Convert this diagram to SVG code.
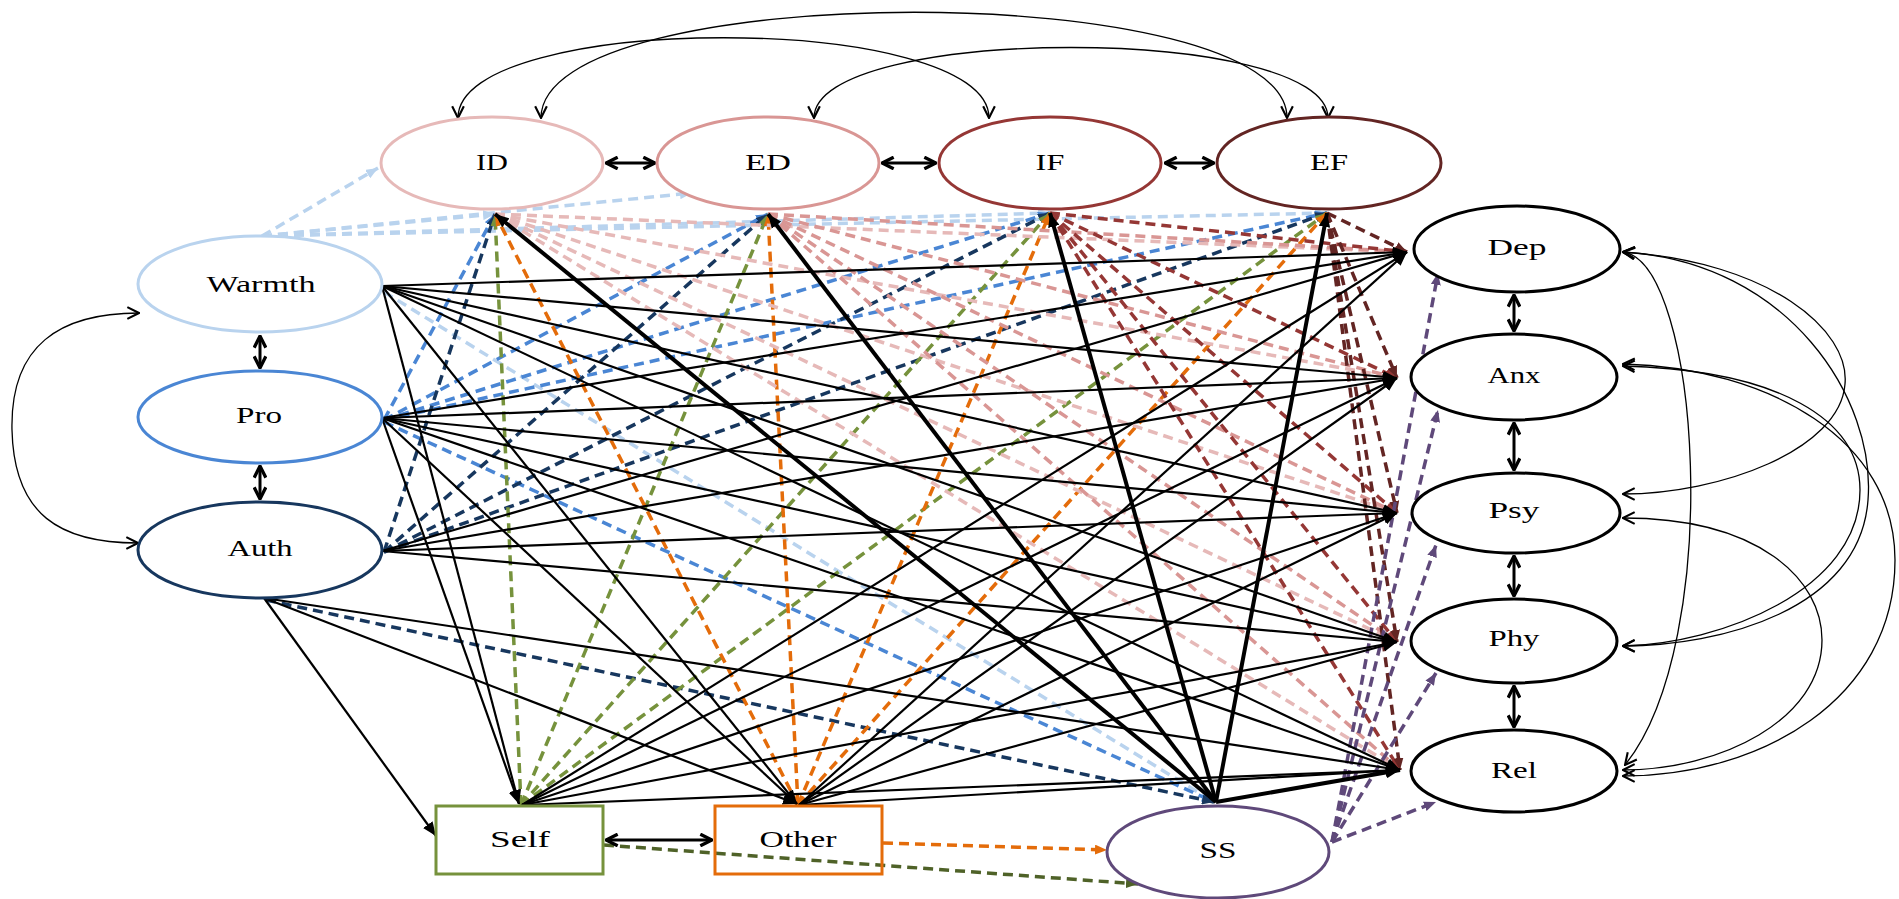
<svg xmlns="http://www.w3.org/2000/svg" width="1899" height="899" viewBox="0 0 1899 899">
<style>
  .nd{fill:#fff;stroke-width:3}
  .lbl{font-family:"Liberation Serif","Times New Roman",serif;font-size:23px;text-anchor:middle;fill:#000}
  .k{stroke:#000;stroke-width:2.2;fill:none;marker-end:url(#mk)}
  .kt{stroke:#000;stroke-width:4;fill:none;marker-end:url(#mk)}
  .d{fill:none;stroke-width:3.5;stroke-dasharray:10 6}
  .lb{stroke:#b9d3ee;marker-end:url(#m-lb)}
  .bl{stroke:#4a86d4;marker-end:url(#m-bl)}
  .nv{stroke:#17375e;marker-end:url(#m-nv)}
  .gr{stroke:#76923c;marker-end:url(#m-gr)}
  .og{stroke:#e46c0a;marker-end:url(#m-og)}
  .ol{stroke:#4f6228;marker-end:url(#m-ol)}
  .p1{stroke:#e6b9b8;marker-end:url(#m-p1)}
  .p2{stroke:#d99694;marker-end:url(#m-p2)}
  .br{stroke:#953735;marker-end:url(#m-br)}
  .db{stroke:#632523;marker-end:url(#m-db)}
  .pu{stroke:#5f497a;marker-end:url(#m-pu)}
  .bd{stroke:#000;stroke-width:3;fill:none;marker-start:url(#ad);marker-end:url(#ad)}
  .cv{stroke:#000;stroke-width:1.3;fill:none;marker-start:url(#av);marker-end:url(#av)}
</style>
<defs>
  <marker id="mk" viewBox="0 0 12 10" refX="12" refY="5" markerWidth="14" markerHeight="12" orient="auto" markerUnits="userSpaceOnUse"><path d="M0,0 L12,5 L0,10 z" fill="#000"/></marker>
  <marker id="m-lb" viewBox="0 0 12 10" refX="12" refY="5" markerWidth="12" markerHeight="10" orient="auto" markerUnits="userSpaceOnUse"><path d="M0,0 L12,5 L0,10 z" fill="#b9d3ee"/></marker>
  <marker id="m-bl" viewBox="0 0 12 10" refX="12" refY="5" markerWidth="12" markerHeight="10" orient="auto" markerUnits="userSpaceOnUse"><path d="M0,0 L12,5 L0,10 z" fill="#4a86d4"/></marker>
  <marker id="m-nv" viewBox="0 0 12 10" refX="12" refY="5" markerWidth="12" markerHeight="10" orient="auto" markerUnits="userSpaceOnUse"><path d="M0,0 L12,5 L0,10 z" fill="#17375e"/></marker>
  <marker id="m-gr" viewBox="0 0 12 10" refX="12" refY="5" markerWidth="12" markerHeight="10" orient="auto" markerUnits="userSpaceOnUse"><path d="M0,0 L12,5 L0,10 z" fill="#76923c"/></marker>
  <marker id="m-og" viewBox="0 0 12 10" refX="12" refY="5" markerWidth="12" markerHeight="10" orient="auto" markerUnits="userSpaceOnUse"><path d="M0,0 L12,5 L0,10 z" fill="#e46c0a"/></marker>
  <marker id="m-ol" viewBox="0 0 12 10" refX="12" refY="5" markerWidth="12" markerHeight="10" orient="auto" markerUnits="userSpaceOnUse"><path d="M0,0 L12,5 L0,10 z" fill="#4f6228"/></marker>
  <marker id="m-p1" viewBox="0 0 12 10" refX="12" refY="5" markerWidth="12" markerHeight="10" orient="auto" markerUnits="userSpaceOnUse"><path d="M0,0 L12,5 L0,10 z" fill="#e6b9b8"/></marker>
  <marker id="m-p2" viewBox="0 0 12 10" refX="12" refY="5" markerWidth="12" markerHeight="10" orient="auto" markerUnits="userSpaceOnUse"><path d="M0,0 L12,5 L0,10 z" fill="#d99694"/></marker>
  <marker id="m-br" viewBox="0 0 12 10" refX="12" refY="5" markerWidth="12" markerHeight="10" orient="auto" markerUnits="userSpaceOnUse"><path d="M0,0 L12,5 L0,10 z" fill="#953735"/></marker>
  <marker id="m-db" viewBox="0 0 12 10" refX="12" refY="5" markerWidth="12" markerHeight="10" orient="auto" markerUnits="userSpaceOnUse"><path d="M0,0 L12,5 L0,10 z" fill="#632523"/></marker>
  <marker id="m-pu" viewBox="0 0 12 10" refX="12" refY="5" markerWidth="12" markerHeight="10" orient="auto" markerUnits="userSpaceOnUse"><path d="M0,0 L12,5 L0,10 z" fill="#5f497a"/></marker>
  <marker id="ad" viewBox="0 0 12 12" refX="11" refY="6" markerWidth="14" markerHeight="14" orient="auto-start-reverse" markerUnits="userSpaceOnUse"><path d="M1,1 L11,6 L1,11" fill="none" stroke="#000" stroke-width="2.8"/></marker>
  <marker id="av" viewBox="0 0 12 12" refX="11" refY="6" markerWidth="14" markerHeight="14" orient="auto-start-reverse" markerUnits="userSpaceOnUse"><path d="M1,1 L11,6 L1,11" fill="none" stroke="#000" stroke-width="1.8"/></marker>
</defs>
<rect width="1899" height="899" fill="#fff"/>

<g id="connectors">
  <!-- covariances among the mediators (top arcs) -->
  <path class="cv" d="M458,118 C458,11 989,11 989,118"/>
  <path class="cv" d="M541,118 C541,-23 1287,-23 1287,118"/>
  <path class="cv" d="M814,118 C814,24 1328,24 1328,118"/>
  <!-- covariance Warmth - Auth -->
  <path class="cv" d="M139,313 C60,313 10,345 12,430 C14,515 60,543 138,543"/>
  <!-- covariances among outcomes (right arcs) -->
  <path class="cv" d="M1623,252 C1700,262 1725,640 1625,765"/>
  <path class="cv" d="M1623,252 C1790,262 1876,400 1868,500 C1860,610 1720,646 1623,646"/>
  <path class="cv" d="M1623,252 C1770,262 1850,330 1845,384 C1840,450 1720,494 1623,494"/>
  <path class="cv" d="M1623,364 C1770,368 1895,440 1895,560 C1895,700 1760,776 1623,776"/>
  <path class="cv" d="M1623,366 C1780,370 1860,420 1860,490 C1860,590 1720,644 1623,646"/>
  <path class="cv" d="M1623,518 C1760,518 1822,580 1822,640 C1822,720 1720,770 1623,770"/>

  <!-- parenting styles to mediators (dashed) -->
  <g class="d">
    <line class="lb" x1="262" y1="236" x2="378" y2="168"/>
    <line class="lb" x1="262" y1="236" x2="495" y2="214"/>
    <line class="lb" x1="262" y1="236" x2="692" y2="193"/>
    <line class="lb" x1="262" y1="236" x2="1050" y2="213"/>
    <line class="lb" x1="262" y1="236" x2="1327" y2="213"/>
    <line class="lb" x1="384" y1="292" x2="1214" y2="802"/>

    <line class="bl" x1="384" y1="420" x2="495" y2="214"/>
    <line class="bl" x1="384" y1="420" x2="768" y2="214"/>
    <line class="bl" x1="384" y1="420" x2="1050" y2="213"/>
    <line class="bl" x1="384" y1="420" x2="1327" y2="213"/>
    <line class="bl" x1="384" y1="422" x2="1214" y2="802"/>

    <line class="nv" x1="384" y1="552" x2="495" y2="214"/>
    <line class="nv" x1="384" y1="552" x2="768" y2="214"/>
    <line class="nv" x1="384" y1="552" x2="1050" y2="213"/>
    <line class="nv" x1="384" y1="552" x2="1327" y2="213"/>
    <line class="nv" x1="266" y1="600" x2="1214" y2="802"/>

    <line class="gr" x1="521" y1="805" x2="495" y2="214"/>
    <line class="gr" x1="521" y1="805" x2="768" y2="214"/>
    <line class="gr" x1="521" y1="805" x2="1050" y2="213"/>
    <line class="gr" x1="521" y1="805" x2="1327" y2="213"/>

    <line class="og" x1="798" y1="805" x2="495" y2="214"/>
    <line class="og" x1="798" y1="805" x2="768" y2="214"/>
    <line class="og" x1="798" y1="805" x2="1050" y2="213"/>
    <line class="og" x1="798" y1="805" x2="1327" y2="213"/>
    <line class="og" x1="883" y1="843" x2="1107" y2="850"/>

    <line class="ol" x1="604" y1="845" x2="1138" y2="884"/>

    <line class="p1" x1="495" y1="214" x2="1407" y2="252"/>
    <line class="p1" x1="495" y1="214" x2="1397" y2="378"/>
    <line class="p1" x1="495" y1="214" x2="1397" y2="513"/>
    <line class="p1" x1="495" y1="214" x2="1397" y2="642"/>
    <line class="p1" x1="495" y1="214" x2="1400" y2="770"/>

    <line class="p2" x1="768" y1="214" x2="1407" y2="252"/>
    <line class="p2" x1="768" y1="214" x2="1397" y2="378"/>
    <line class="p2" x1="768" y1="214" x2="1397" y2="513"/>
    <line class="p2" x1="768" y1="214" x2="1397" y2="642"/>
    <line class="p2" x1="768" y1="214" x2="1400" y2="770"/>

    <line class="br" x1="1050" y1="213" x2="1407" y2="252"/>
    <line class="br" x1="1050" y1="213" x2="1397" y2="378"/>
    <line class="br" x1="1050" y1="213" x2="1397" y2="513"/>
    <line class="br" x1="1050" y1="213" x2="1397" y2="642"/>
    <line class="br" x1="1050" y1="213" x2="1400" y2="770"/>

    <line class="db" x1="1327" y1="213" x2="1407" y2="252"/>
    <line class="db" x1="1327" y1="213" x2="1397" y2="378"/>
    <line class="db" x1="1327" y1="213" x2="1397" y2="513"/>
    <line class="db" x1="1327" y1="213" x2="1397" y2="642"/>
    <line class="db" x1="1327" y1="213" x2="1400" y2="770"/>

    <line class="pu" x1="1332" y1="842" x2="1438" y2="273"/>
    <line class="pu" x1="1332" y1="842" x2="1438" y2="410"/>
    <line class="pu" x1="1332" y1="842" x2="1436" y2="545"/>
    <line class="pu" x1="1332" y1="842" x2="1436" y2="673"/>
    <line class="pu" x1="1332" y1="842" x2="1436" y2="802"/>
  </g>

  <!-- direct paths (solid) -->
  <g>
    <line class="k" x1="382" y1="286" x2="1407" y2="252"/>
    <line class="k" x1="382" y1="286" x2="1397" y2="378"/>
    <line class="k" x1="382" y1="286" x2="1397" y2="513"/>
    <line class="k" x1="382" y1="286" x2="1397" y2="642"/>
    <line class="k" x1="382" y1="286" x2="1400" y2="770"/>
    <line class="k" x1="382" y1="286" x2="519" y2="804"/>
    <line class="k" x1="382" y1="286" x2="797" y2="804"/>

    <line class="k" x1="382" y1="418" x2="1407" y2="252"/>
    <line class="k" x1="382" y1="418" x2="1397" y2="378"/>
    <line class="k" x1="382" y1="418" x2="1397" y2="513"/>
    <line class="k" x1="382" y1="418" x2="1397" y2="642"/>
    <line class="k" x1="382" y1="418" x2="1400" y2="770"/>
    <line class="k" x1="382" y1="418" x2="519" y2="804"/>
    <line class="k" x1="382" y1="418" x2="797" y2="804"/>

    <line class="k" x1="382" y1="551" x2="1407" y2="252"/>
    <line class="k" x1="382" y1="551" x2="1397" y2="378"/>
    <line class="k" x1="382" y1="551" x2="1397" y2="513"/>
    <line class="k" x1="382" y1="551" x2="1397" y2="642"/>
    <line class="k" x1="264" y1="598" x2="1400" y2="770"/>
    <line class="k" x1="264" y1="598" x2="436" y2="836"/>
    <line class="k" x1="264" y1="598" x2="797" y2="804"/>

    <line class="k" x1="522" y1="805" x2="1407" y2="252"/>
    <line class="k" x1="522" y1="805" x2="1397" y2="378"/>
    <line class="k" x1="522" y1="805" x2="1397" y2="513"/>
    <line class="k" x1="522" y1="805" x2="1397" y2="642"/>
    <line class="k" x1="522" y1="805" x2="1400" y2="770"/>

    <line class="k" x1="799" y1="805" x2="1407" y2="252"/>
    <line class="k" x1="799" y1="805" x2="1397" y2="378"/>
    <line class="k" x1="799" y1="805" x2="1397" y2="513"/>
    <line class="k" x1="799" y1="805" x2="1397" y2="642"/>
    <line class="k" x1="799" y1="805" x2="1400" y2="770"/>

    <line class="kt" x1="1216" y1="802" x2="495" y2="214"/>
    <line class="kt" x1="1216" y1="802" x2="768" y2="214"/>
    <line class="kt" x1="1216" y1="802" x2="1050" y2="213"/>
    <line class="kt" x1="1216" y1="802" x2="1327" y2="213"/>
    <line class="kt" x1="1216" y1="802" x2="1400" y2="770"/>
  </g>

  <!-- adjacent covariances (double-headed) -->
  <line class="bd" x1="606" y1="163" x2="655" y2="163"/>
  <line class="bd" x1="882" y1="163" x2="936" y2="163"/>
  <line class="bd" x1="1165" y1="163" x2="1214" y2="163"/>
  <line class="bd" x1="260" y1="336" x2="260" y2="368"/>
  <line class="bd" x1="260" y1="466" x2="260" y2="499"/>
  <line class="bd" x1="1514" y1="295" x2="1514" y2="331"/>
  <line class="bd" x1="1514" y1="423" x2="1514" y2="470"/>
  <line class="bd" x1="1514" y1="556" x2="1514" y2="596"/>
  <line class="bd" x1="1514" y1="686" x2="1514" y2="727"/>
  <line class="bd" x1="606" y1="840" x2="712" y2="840"/>
</g>

<g id="n-id"><ellipse class="nd" cx="492" cy="163" rx="111" ry="46" stroke="#e6b9b8"/><text class="lbl" x="492" y="170" textLength="32" lengthAdjust="spacingAndGlyphs">ID</text></g>
<g id="n-ed"><ellipse class="nd" cx="768" cy="163" rx="111" ry="46" stroke="#d99694"/><text class="lbl" x="768" y="170" textLength="46" lengthAdjust="spacingAndGlyphs">ED</text></g>
<g id="n-if"><ellipse class="nd" cx="1050" cy="163" rx="111" ry="46" stroke="#953735"/><text class="lbl" x="1050" y="170" textLength="29" lengthAdjust="spacingAndGlyphs">IF</text></g>
<g id="n-ef"><ellipse class="nd" cx="1329" cy="163" rx="112" ry="46" stroke="#632523"/><text class="lbl" x="1329" y="170" textLength="38" lengthAdjust="spacingAndGlyphs">EF</text></g>

<g id="n-warmth"><ellipse class="nd" cx="260" cy="284" rx="122" ry="48" stroke="#b9d3ee"/><text class="lbl" x="261" y="292" textLength="109" lengthAdjust="spacingAndGlyphs">Warmth</text></g>
<g id="n-pro"><ellipse class="nd" cx="260" cy="417" rx="122" ry="46" stroke="#4a86d4"/><text class="lbl" x="259" y="423" textLength="46" lengthAdjust="spacingAndGlyphs">Pro</text></g>
<g id="n-auth"><ellipse class="nd" cx="260" cy="550" rx="122" ry="48" stroke="#17375e"/><text class="lbl" x="260" y="556" textLength="65" lengthAdjust="spacingAndGlyphs">Auth</text></g>

<g id="n-dep"><ellipse class="nd" cx="1517" cy="249" rx="103" ry="43" stroke="#000"/><text class="lbl" x="1517" y="255" textLength="59" lengthAdjust="spacingAndGlyphs">Dep</text></g>
<g id="n-anx"><ellipse class="nd" cx="1514" cy="377" rx="103" ry="43" stroke="#000"/><text class="lbl" x="1514" y="383" textLength="53" lengthAdjust="spacingAndGlyphs">Anx</text></g>
<g id="n-psy"><ellipse class="nd" cx="1516" cy="513" rx="104" ry="40" stroke="#000"/><text class="lbl" x="1514" y="518" textLength="51" lengthAdjust="spacingAndGlyphs">Psy</text></g>
<g id="n-phy"><ellipse class="nd" cx="1514" cy="641" rx="103" ry="42" stroke="#000"/><text class="lbl" x="1514" y="646" textLength="51" lengthAdjust="spacingAndGlyphs">Phy</text></g>
<g id="n-rel"><ellipse class="nd" cx="1514" cy="771" rx="103" ry="41" stroke="#000"/><text class="lbl" x="1514" y="778" textLength="46" lengthAdjust="spacingAndGlyphs">Rel</text></g>

<g id="n-self"><rect x="436" y="806" width="167" height="68" fill="none" stroke="#76923c" stroke-width="3"/><text class="lbl" x="520" y="847" textLength="60" lengthAdjust="spacingAndGlyphs">Self</text></g>
<g id="n-other"><rect x="715" y="806" width="167" height="68" fill="none" stroke="#e46c0a" stroke-width="3"/><text class="lbl" x="798" y="847" textLength="77" lengthAdjust="spacingAndGlyphs">Other</text></g>
<g id="n-ss"><ellipse class="nd" cx="1218" cy="852" rx="111" ry="46" stroke="#5f497a"/><text class="lbl" x="1218" y="858" textLength="37" lengthAdjust="spacingAndGlyphs">SS</text></g>
</svg>
